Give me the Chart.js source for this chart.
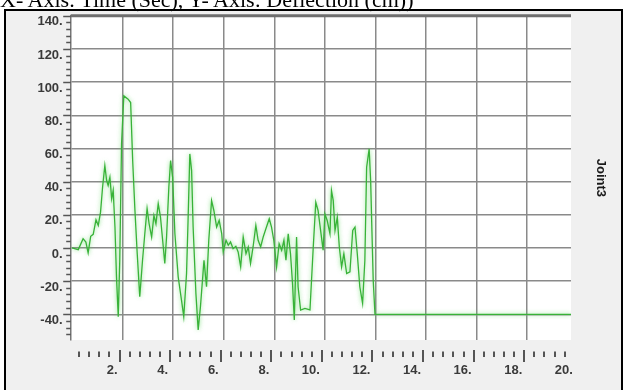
<!DOCTYPE html>
<html>
<head>
<meta charset="utf-8">
<script src="https://cdn.jsdelivr.net/npm/chart.js@4/dist/chart.umd.min.js"></script>
<style>
  html, body { margin: 0; padding: 0; background: #ffffff; overflow: hidden; }
  #wrap { position: relative; width: 625px; height: 390px; }
  #chart { position: absolute; left: 0; top: 0; }
  #heading {
    position: absolute; left: 0; top: -11px; margin: 0;
    font-family: "Liberation Serif", "Times New Roman", serif;
    font-size: 22px; line-height: 22px; color: #000; white-space: nowrap;
  }
</style>
</head>
<body>
<div id="wrap">
  <canvas id="chart" width="625" height="390"></canvas>
  <div id="heading">X- Axis: Time (Sec), Y- Axis: Deflection (cm))</div>
</div>
<script>
// Joint3 deflection history (time in s, deflection in cm)
const times = [0.00,0.25,0.44,0.55,0.64,0.74,0.84,0.95,1.04,1.13,
  1.21,1.30,1.37,1.43,1.50,1.57,1.63,1.70,1.76,1.83,
  1.89,1.96,2.05,2.22,2.32,2.40,2.49,2.58,2.68,2.79,
  2.88,2.97,3.05,3.15,3.24,3.32,3.41,3.50,3.61,3.67,
  3.74,3.83,3.90,3.98,4.07,4.20,4.33,4.42,4.53,4.59,
  4.66,4.73,4.79,4.90,4.99,5.08,5.22,5.32,5.41,5.52,
  5.61,5.72,5.82,5.92,5.98,6.09,6.18,6.27,6.37,6.48,
  6.57,6.67,6.77,6.88,6.97,7.06,7.16,7.27,7.36,7.46,
  7.56,7.69,7.80,7.89,7.98,8.09,8.19,8.29,8.38,8.46,
  8.55,8.64,8.72,8.79,8.88,8.94,9.04,9.21,9.41,9.54,
  9.64,9.73,9.83,9.93,10.00,10.09,10.20,10.26,10.33,10.40,
  10.49,10.57,10.66,10.75,10.86,10.99,11.10,11.19,11.28,11.38,
  11.49,11.58,11.65,11.75,11.81,11.86,11.91,11.98,19.73];

const deflection = [0,-1,5.6,3.6,-3,7,8.2,17,13.6,21.6,
  36.6,49.7,40.7,37.7,42.6,29.7,34.7,12.6,-17.4,-41.4,
  -7.4,62.7,91.7,89.7,87.7,52.7,22.6,-3.4,-29.4,-7.4,
  8.6,23.7,14.6,6.6,19.6,14.6,26.7,18.6,0.6,-9.4,
  6.6,36.6,52.7,42.6,8.6,-17.4,-31.4,-41.4,-15.4,16.6,
  56.7,46.7,12.6,-27.4,-49.4,-35.4,-7.4,-23.4,5,28.6,
  22.6,12.6,16.6,8.6,-2.4,4.6,1.6,3.6,-0.4,1,
  -2.4,-11.4,6.6,-3.4,0.6,-9.4,0.6,13.6,4.6,0.6,
  6.6,12.6,17.6,12.6,4.6,-11.4,2.6,-1.4,4.6,-7.4,
  8.6,-3.4,-21.4,-43.4,6.6,-23.4,-37.4,-36.4,-37.4,0.6,
  27.6,22.6,10.6,-1.4,20.6,16.6,8.6,34.7,28.6,10.6,
  18.6,0.6,-11.4,-3.4,-15.4,-14.4,10.6,12.6,-3.4,-23.4,
  -33.4,-7.4,48.7,59.7,40,10,-19.4,-40,-40];

const xTickValues = [2,4,6,8,10,12,14,16,18,20];
const yTickValues = [-40,-20,0,20,40,60,80,100,120,140];
const xMinorStep = 0.4;
const yMinorStep = 4;

const X_MIN = -0.05, X_MAX = 19.73;
const Y_MIN = -55.5, Y_MAX = 140;

const labelFont = { family: "'Liberation Sans', Arial, sans-serif", size: 13, weight: 'bold' };
const gridGray = '#8a8a8a';

// panel, frame and plot backgrounds
const framePlugin = {
  id: 'frame',
  beforeDraw(chart) {
    const { ctx, chartArea: a, width, height } = chart;
    ctx.save();
    ctx.fillStyle = '#ffffff';
    ctx.fillRect(0, 0, width, height);
    ctx.fillStyle = '#f0f0f0';
    ctx.fillRect(5, 10, width - 8, height);
    ctx.strokeStyle = '#000000';
    ctx.lineWidth = 2;
    ctx.strokeRect(5, 10, width - 8, height + 5);
    ctx.fillStyle = '#ffffff';
    ctx.fillRect(a.left, a.top, a.right - a.left, a.bottom - a.top);
    ctx.restore();
  },
  afterDraw(chart) {
    const { ctx, chartArea: a } = chart;
    const xs = chart.scales.x, ys = chart.scales.y;
    ctx.save();
    // heavy top edge of the plot
    ctx.strokeStyle = '#6e6e6e';
    ctx.lineWidth = 3;
    ctx.beginPath();
    ctx.moveTo(a.left, a.top);
    ctx.lineTo(a.right, a.top);
    ctx.stroke();

    ctx.strokeStyle = '#555555';
    ctx.lineWidth = 1.5;
    // y axis tick marks
    for (let v = Math.ceil(Y_MIN / yMinorStep) * yMinorStep; v <= Y_MAX; v += yMinorStep) {
      const py = Math.round(ys.getPixelForValue(v)) + 0.5;
      const major = yTickValues.includes(v);
      ctx.beginPath();
      ctx.moveTo(a.left - (major ? 7.5 : 4.5), py);
      ctx.lineTo(a.left, py);
      ctx.stroke();
    }
    // x axis tick marks, in a separate row below the plot
    ctx.lineWidth = 2;
    const n = Math.floor(X_MAX / xMinorStep);
    for (let i = 1; i <= n; i++) {
      const v = +(i * xMinorStep).toFixed(2);
      const major = Math.abs(v / 2 - Math.round(v / 2)) < 1e-6;
      const px = Math.round(xs.getPixelForValue(v)) - 3;
      ctx.beginPath();
      ctx.moveTo(px, a.bottom + (major ? 10 : 11.5));
      ctx.lineTo(px, a.bottom + (major ? 22 : 17));
      ctx.stroke();
    }
    ctx.restore();
  }
};

// soft halo around the trace
const glowPlugin = {
  id: 'glow',
  beforeDatasetsDraw(chart) {
    const ctx = chart.ctx;
    ctx.save();
    ctx.shadowColor = 'rgba(90, 215, 90, 0.75)';
    ctx.shadowBlur = 4;
  },
  afterDatasetsDraw(chart) {
    chart.ctx.restore();
  }
};

new Chart(document.getElementById('chart'), {
  type: 'line',
  data: {
    datasets: [{
      label: 'Joint3',
      data: times.map((t, i) => ({ x: t, y: deflection[i] })),
      borderColor: '#38b238',
      borderWidth: 1.3,
      pointRadius: 0,
      tension: 0,
      fill: false
    }]
  },
  options: {
    responsive: false,
    animation: false,
    devicePixelRatio: 1,
    layout: { padding: { left: 6, top: 15, right: 0, bottom: 0 } },
    plugins: { legend: { display: false }, tooltip: { enabled: false } },
    scales: {
      x: {
        type: 'linear',
        min: X_MIN,
        max: X_MAX,
        afterBuildTicks: s => { s.ticks = xTickValues.map(v => ({ value: v })); },
        afterFit: s => { s.height = 50; },
        border: { display: false },
        grid: {
          drawTicks: false,
          lineWidth: 1.5,
          color: c => (c.tick && c.tick.value > X_MAX) ? 'rgba(0,0,0,0)' : gridGray
        },
        ticks: {
          autoSkip: false,
          maxRotation: 0,
          align: 'end',
          labelOffset: -5,
          padding: 23,
          font: labelFont,
          color: '#3a3a3a',
          callback: v => v + '.'
        }
      },
      y: {
        type: 'linear',
        min: Y_MIN,
        max: Y_MAX,
        afterBuildTicks: s => { s.ticks = yTickValues.map(v => ({ value: v })); },
        afterFit: s => { s.width = 64.7; },
        border: { display: true, color: '#777777', width: 1.5 },
        grid: { drawTicks: false, lineWidth: 1.5, color: gridGray },
        ticks: {
          padding: 8,
          labelOffset: 6,
          font: labelFont,
          color: '#3a3a3a',
          callback: v => v + '.'
        }
      },
      side: {
        axis: 'y',
        position: 'right',
        afterFit: s => { s.width = 54; },
        grid: { display: false },
        border: { display: false },
        ticks: { display: false },
        title: {
          display: true,
          text: 'Joint3',
          color: '#1a1a1a',
          font: { family: "'Liberation Sans', Arial, sans-serif", size: 13, weight: 'bold' },
          padding: { top: 17 }
        }
      }
    }
  },
  plugins: [framePlugin, glowPlugin]
});
</script>
</body>
</html>
